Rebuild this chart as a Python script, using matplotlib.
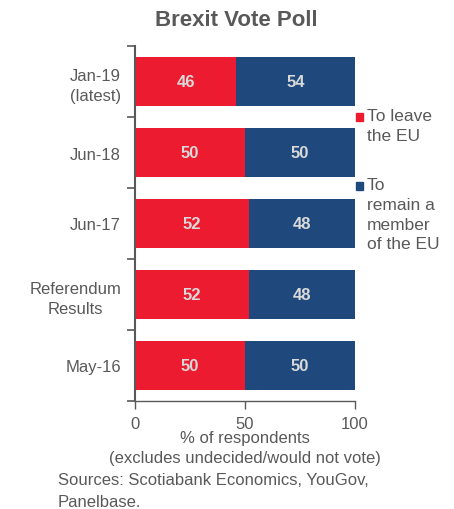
import matplotlib
matplotlib.use("Agg")
import matplotlib.pyplot as plt
from matplotlib.patches import Rectangle
import numpy as np

plt.rcParams['font.family'] = ['Liberation Sans', 'DejaVu Sans']

categories = ["Jan-19\n(latest)", "Jun-18", "Jun-17", "Referendum\nResults", "May-16"]
leave = [46, 50, 52, 52, 50]
remain = [54, 50, 48, 48, 50]
series_names = ["To leave\nthe EU", "To\nremain a\nmember\nof the EU"]
colors = ["#ED1B2F", "#1F497D"]
grey = "#595959"

fig = plt.figure(figsize=(4.54, 5.10), dpi=100)
ax = fig.add_axes([135/454, 1-402/510, 220/454, 355/510])

y = np.arange(len(categories))
h = 0.70
ax.barh(y, leave, height=h, color=colors[0])
ax.barh(y, remain, left=leave, height=h, color=colors[1])
for yi, l, r in zip(y, leave, remain):
    ax.text(l/2, yi, f"{l}", ha='center', va='center', color='#D9D9D9',
            fontsize=12, fontweight='bold')
    ax.text(l + r/2, yi, f"{r}", ha='center', va='center', color='#D9D9D9',
            fontsize=12, fontweight='bold')

ax.set_xlim(0, 100)
ax.set_ylim(len(categories)-0.5, -0.5)
ax.set_xticks([0, 50, 100])
ax.set_xticklabels(["0", "50", "100"])
ax.set_yticks(y)
ax.set_yticklabels(categories, fontsize=12, color=grey)
for lab in ax.get_yticklabels():
    lab.set_multialignment('center')
    lab.set_linespacing(1.4)
ax.set_yticks(np.arange(len(categories)+1) - 0.5, minor=True)
ax.tick_params(axis='y', which='major', length=0, pad=10)
ax.tick_params(axis='y', which='minor', length=6, width=1.2, color=grey)
ax.tick_params(axis='x', length=6, width=1, color=grey, labelsize=12,
               labelcolor=grey, pad=5)
for s in ['top', 'right']:
    ax.spines[s].set_visible(False)
ax.spines['left'].set_color(grey)
ax.spines['left'].set_linewidth(1.5)
ax.spines['bottom'].set_color(grey)
ax.spines['bottom'].set_linewidth(1)

ax.set_xlabel("% of respondents\n(excludes undecided/would not vote)",
              fontsize=12, color=grey, labelpad=-1, linespacing=1.45)

fig.text(236/454, 1-20/510, "Brexit Vote Poll", ha='center', va='center',
         fontsize=16, fontweight='bold', color=grey)

fig.text(58/454, 1-473/510, "Sources: Scotiabank Economics, YouGov,\nPanelbase.",
         ha='left', va='top', fontsize=12, color=grey, linespacing=1.55)

# legend
leg_y = [118, 187]
for name, c, yy in zip(series_names, colors, leg_y):
    fig.patches.append(Rectangle((356/454, 1-(yy+4)/510), 7/454, 8/510,
                                 transform=fig.transFigure, color=c))
    fig.text(367/454, 1-(yy-9)/510, name, ha='left', va='top',
             fontsize=12.5, color=grey, linespacing=1.4)

fig.savefig("out.png", dpi=100)
